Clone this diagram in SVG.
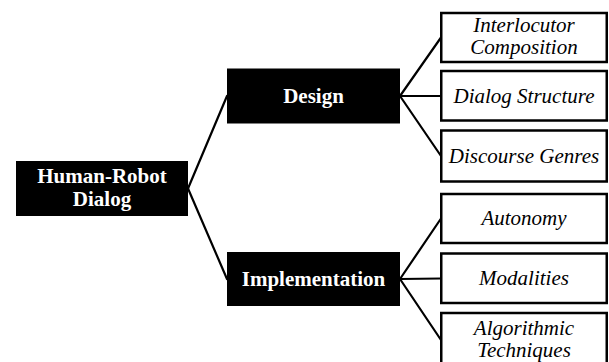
<svg xmlns="http://www.w3.org/2000/svg" width="609" height="362" viewBox="0 0 609 362">
  <style>
    .hub { fill: #000; }
    .hub-label { font-family: "Liberation Serif", "Times New Roman", serif; font-weight: bold; font-size: 21px; fill: #fff; text-anchor: middle; }
    .leaf { fill: #fff; stroke: #000; stroke-width: 2.5; }
    .leaf-label { font-family: "Liberation Serif", "Times New Roman", serif; font-style: italic; font-size: 21px; fill: #000; text-anchor: middle; }
    .link { stroke: #000; stroke-width: 2.2; fill: none; stroke-linecap: round; }
  </style>

  <!-- connectors -->
  <g id="connectors">
    <line class="link" x1="188" y1="188.5" x2="227" y2="96"/>
    <line class="link" x1="188" y1="188.5" x2="227" y2="279"/>
    <line class="link" x1="400" y1="96" x2="441" y2="37.5"/>
    <line class="link" x1="400" y1="96" x2="441" y2="96"/>
    <line class="link" x1="400" y1="96" x2="441" y2="156"/>
    <line class="link" x1="400" y1="279" x2="441" y2="218.5"/>
    <line class="link" x1="400" y1="279" x2="441" y2="278.5"/>
    <line class="link" x1="400" y1="279" x2="441" y2="340"/>
  </g>

  <!-- root -->
  <g id="human-robot-dialog">
    <rect class="hub" x="16" y="161" width="172" height="55"/>
    <text class="hub-label" x="102" y="183">Human-Robot</text>
    <text class="hub-label" x="102" y="206">Dialog</text>
  </g>

  <!-- branches -->
  <g id="design">
    <rect class="hub" x="227" y="68.5" width="173" height="55"/>
    <text class="hub-label" x="313.5" y="103">Design</text>
  </g>
  <g id="implementation">
    <rect class="hub" x="227" y="252" width="173" height="54"/>
    <text class="hub-label" x="313.5" y="286">Implementation</text>
  </g>

  <!-- leaves -->
  <g id="interlocutor-composition">
    <rect class="leaf" x="441.25" y="13" width="165.5" height="49"/>
    <text class="leaf-label" x="524" y="32">Interlocutor</text>
    <text class="leaf-label" x="524" y="54">Composition</text>
  </g>
  <g id="dialog-structure">
    <rect class="leaf" x="441.25" y="71" width="165.5" height="49.5"/>
    <text class="leaf-label" x="524" y="103">Dialog Structure</text>
  </g>
  <g id="discourse-genres">
    <rect class="leaf" x="441.25" y="130.5" width="165.5" height="51"/>
    <text class="leaf-label" x="524" y="163">Discourse Genres</text>
  </g>
  <g id="autonomy">
    <rect class="leaf" x="441.25" y="194" width="165.5" height="49"/>
    <text class="leaf-label" x="524" y="225">Autonomy</text>
  </g>
  <g id="modalities">
    <rect class="leaf" x="441.25" y="253.5" width="165.5" height="49.5"/>
    <text class="leaf-label" x="524" y="285">Modalities</text>
  </g>
  <g id="algorithmic-techniques">
    <rect class="leaf" x="441.25" y="313" width="165.5" height="54"/>
    <text class="leaf-label" x="524" y="335">Algorithmic</text>
    <text class="leaf-label" x="524" y="357">Techniques</text>
  </g>
</svg>
